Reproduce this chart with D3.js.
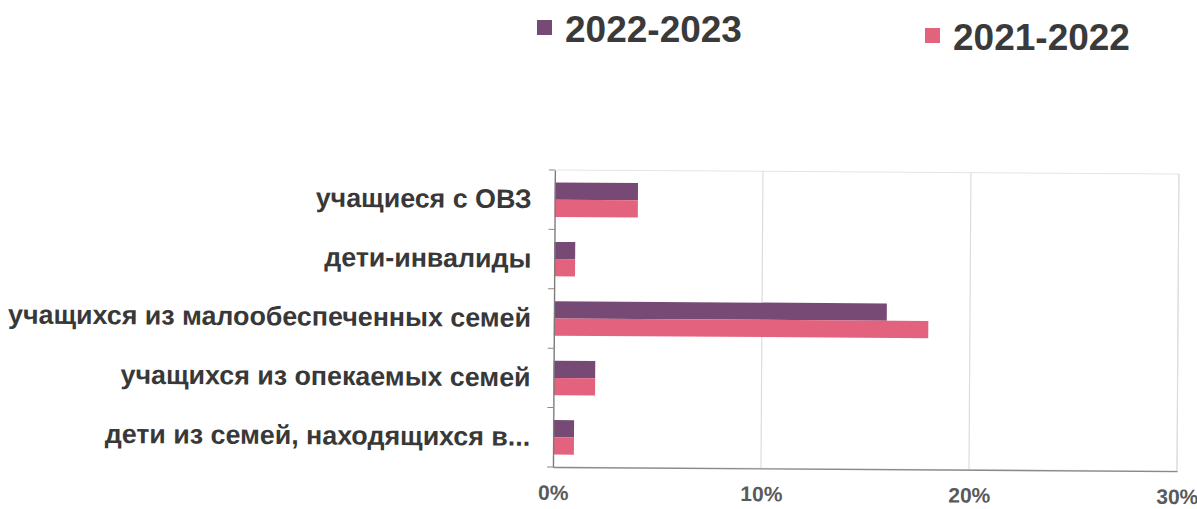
<!DOCTYPE html>
<html><head><meta charset="utf-8">
<script src="https://cdn.jsdelivr.net/npm/d3@7/dist/d3.min.js"></script>
<style>html,body{margin:0;padding:0;background:#fff;}svg{display:block;}</style>
</head><body>
<svg id="c" width="1197" height="509"></svg>
<script>
const categories = [
  "учащиеся с ОВЗ",
  "дети-инвалиды",
  "учащихся из малообеспеченных семей",
  "учащихся из опекаемых семей",
  "дети из семей, находящихся в..."
];
const seriesNames = ["2022-2023", "2021-2022"];
const values2022_2023 = [4, 1, 16, 2, 1];
const values2021_2022 = [4, 1, 18, 2, 1];
const xTicks = [0, 0.1, 0.2, 0.3];
const colors = ["#764a74", "#e3637f"];

const svg = d3.select("#c");
const W = 624, H = 297, ox = 553, oy = 170;
const g = svg.append("g").attr("transform", `rotate(0.37, ${ox}, ${oy+H}) translate(${ox},${oy})`);

const x = d3.scaleLinear().domain([0, 0.3]).range([0, W]);
const y = d3.scaleBand().domain(categories).range([0, H]).paddingInner(0.42).paddingOuter(0.21);
const ySub = d3.scaleBand().domain(seriesNames).range([0, y.bandwidth()]);

// plot border + gridlines
g.append("rect").attr("x",0).attr("y",0).attr("width",W).attr("height",H)
  .attr("fill","none").attr("stroke","#e4e4e4").attr("stroke-width",1);
g.selectAll(".grid").data(xTicks.slice(1)).join("line")
  .attr("x1",d=>x(d)).attr("x2",d=>x(d)).attr("y1",0).attr("y2",H)
  .attr("stroke","#dcdcdc").attr("stroke-width",1.2);

// bars
const data = categories.map((c,i)=>({c, v:[values2022_2023[i]/100, values2021_2022[i]/100]}));
const grp = g.selectAll(".cat").data(data).join("g").attr("transform", d=>`translate(0,${y(d.c)})`);
grp.selectAll("rect").data(d=>d.v.map((v,j)=>({v, s:seriesNames[j], j}))).join("rect")
  .attr("x", x(0)).attr("y", d=>ySub(d.s)).attr("width", d=>x(d.v)-x(0)).attr("height", ySub.bandwidth())
  .attr("fill", d=>colors[d.j]);

// x axis
const xAxis = d3.axisBottom(x).tickValues(xTicks).tickFormat(d3.format(".0%")).tickSize(0).tickPadding(18);
const xg = g.append("g").attr("transform",`translate(0,${H})`).call(xAxis);
xg.select(".domain").attr("stroke","#8a8a8a").attr("stroke-width",1.3);
xg.selectAll("text").attr("font-family","Liberation Sans, Arial, sans-serif").attr("font-weight","bold")
  .attr("font-size","21px").attr("fill","#5a5a5a");

// y axis
const yAxis = d3.axisLeft(y).tickSize(0).tickPadding(23);
const yg = g.append("g").call(yAxis);
yg.select(".domain").attr("stroke","#7a7a7a").attr("stroke-width",1.3);
yg.selectAll("text").attr("font-family","Liberation Sans, Arial, sans-serif").attr("font-weight","bold")
  .attr("font-size","26.8px").attr("fill","#383838");
// ticks at band boundaries
const bounds = d3.range(categories.length+1).map(i=>i*y.step());
g.selectAll(".ytick").data(bounds).join("line")
  .attr("x1",-6).attr("x2",0).attr("y1",d=>d).attr("y2",d=>d)
  .attr("stroke","#8a8a8a").attr("stroke-width",1);

// legend
const legendPos = [[537,20],[925,28]];
const lg = svg.selectAll(".leg").data(seriesNames).join("g").attr("transform",(d,i)=>`translate(${legendPos[i][0]},${legendPos[i][1]})`);
lg.append("rect").attr("width",15).attr("height",15).attr("fill",(d,i)=>colors[i]);
lg.append("text").attr("x",28).attr("y",22).text(d=>d)
  .attr("font-family","Liberation Sans, Arial, sans-serif").attr("font-weight","bold")
  .attr("font-size","37px").attr("fill","#3a3a3a");
</script>
</body></html>
